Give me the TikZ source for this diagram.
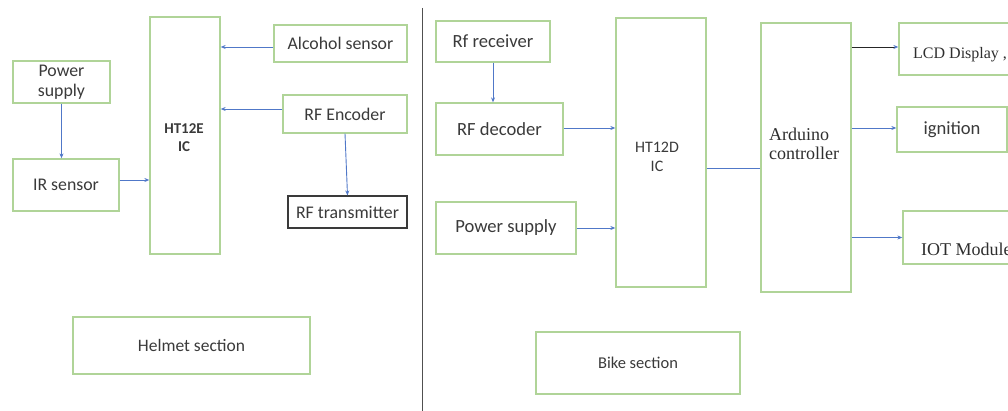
\documentclass[tikz,border=0pt]{standalone}
\usepackage{fontspec}
\setmainfont{Carlito}
\newfontfamily\serifface{Liberation Serif}
\usetikzlibrary{arrows.meta}
\definecolor{boxgreen}{RGB}{176,212,152}
\definecolor{arrowblue}{RGB}{80,120,200}
\definecolor{txtgray}{RGB}{58,58,58}
\definecolor{divgray}{RGB}{80,80,80}
\begin{document}
\begin{tikzpicture}[x=1pt,y=-1pt,
  blockbox/.style={draw=boxgreen, line width=1.3pt, rectangle, inner sep=0pt,
    text=txtgray, align=center},
  lbl/.style={text=txtgray, inner sep=0pt, align=center},
  serifl/.style={text=black!82, inner sep=0pt, anchor=west, align=left},
  leftfont/.style={font=\fontsize{17.8}{20}\selectfont},
  rightfont/.style={font=\fontsize{18.6}{21}\selectfont},
  feed/.style={draw=arrowblue, line width=0.9pt,
    -{Stealth[length=5pt,width=4pt,color=arrowblue]}},
  link/.style={draw=arrowblue, line width=0.9pt}]
\useasboundingbox (0,0) rectangle (1008,411);
\clip (0,0) rectangle (1008,411);

% ---------------- helmet unit ----------------
\node[blockbox, minimum width=70, minimum height=237] (enc) at (185,135.5) {};
\node[lbl, font=\fontsize{15}{18}\selectfont\bfseries] (enclbl) at (184,138) {HT12E\\IC};
\node[blockbox, leftfont, minimum width=133, minimum height=37]
  (alc) at (340.5,43.5) {Alcohol sensor};
\node[blockbox, leftfont, minimum width=97, minimum height=42]
  (psu) at (61.5,82) {Power\\supply};
\node[blockbox, leftfont, minimum width=124, minimum height=38]
  (rfenc) at (345,114) {RF Encoder};
\node[blockbox, leftfont, minimum width=106, minimum height=52]
  (ir) at (66,185) {IR sensor};
\node[blockbox, leftfont, draw=txtgray, line width=1.1pt, minimum width=119, minimum height=32]
  (tx) at (347.5,212) {RF transmitter};
\node[blockbox, font=\fontsize{17.5}{20}\selectfont, minimum width=237, minimum height=57]
  (helmet) at (191.5,345.5) {Helmet section};

\draw[feed] (alc.west) ++(0,3.5) coordinate (alcout) -- (alcout -| enc.east);
\draw[feed] ([yshift=5pt]rfenc.west) -- ([yshift=5pt]rfenc.west -| enc.east);
\draw[feed] (psu.south) -- (psu.south |- ir.north);
\draw[feed] ([yshift=5pt]ir.east) -- ([yshift=5pt]ir.east -| enc.west);
\draw[feed] (rfenc.south) -- (tx.north);

% divider between the two units
\draw[divgray, line width=1.6pt] (422.5,8) -- (422.5,411);

% ---------------- bike unit ----------------
\node[blockbox, rightfont, minimum width=114, minimum height=41]
  (rx) at (493,41.5) {Rf receiver};
\node[blockbox, rightfont, minimum width=127, minimum height=52]
  (dec) at (499.5,129) {RF decoder};
\node[blockbox, rightfont, minimum width=140, minimum height=52]
  (psu2) at (506,228) {Power supply};
\node[blockbox, minimum width=90, minimum height=269] (ht12d) at (661,152.5) {};
\node[lbl, font=\fontsize{16}{19}\selectfont] (ht12dlbl) at (657,157) {HT12D\\IC};
\node[blockbox, minimum width=90, minimum height=269] (ard) at (806,157.5) {};
\node[serifl, font=\serifface\fontsize{18}{18.5}\selectfont]
  (ardlbl) at (769,144) {Arduino\\controller};
\node[blockbox, minimum width=140, minimum height=52] (lcd) at (969,49) {};
\node[serifl, font=\serifface\fontsize{16}{19}\selectfont]
  (lcdlbl) at (913,55) {LCD Display ,};
\node[blockbox, rightfont, minimum width=110, minimum height=45]
  (ign) at (952,129.5) {ignition};
\node[blockbox, minimum width=130, minimum height=53] (iot) at (968,237.5) {};
\node[serifl, font=\serifface\fontsize{18}{20}\selectfont]
  (iotlbl) at (921,249) {IOT Module};
\node[blockbox, font=\fontsize{16.5}{20}\selectfont, minimum width=204, minimum height=62]
  (bike) at (638,363) {Bike section};

\draw[feed] (rx.south) -- (rx.south |- dec.north);
\draw[feed] ([yshift=1pt]dec.east) -- ([yshift=1pt]dec.east -| ht12d.west);
\draw[feed] (psu2.east) -- (psu2.east -| ht12d.west);
\draw[link] ([yshift=-15.5pt]ht12d.east) -- ([yshift=-15.5pt]ht12d.east -| ard.west);
\draw[line width=0.9pt, draw=black!85, -{Stealth[length=5pt,width=4pt,color=arrowblue]}]
  ([yshift=2pt]lcd.west -| ard.east) -- ([yshift=2pt]lcd.west);
\draw[feed] ([yshift=1.5pt]ign.west -| ard.east) -- ([yshift=1.5pt]ign.west);
\draw[feed] (iot.west -| ard.east) -- (iot.west);
\end{tikzpicture}
\end{document}
